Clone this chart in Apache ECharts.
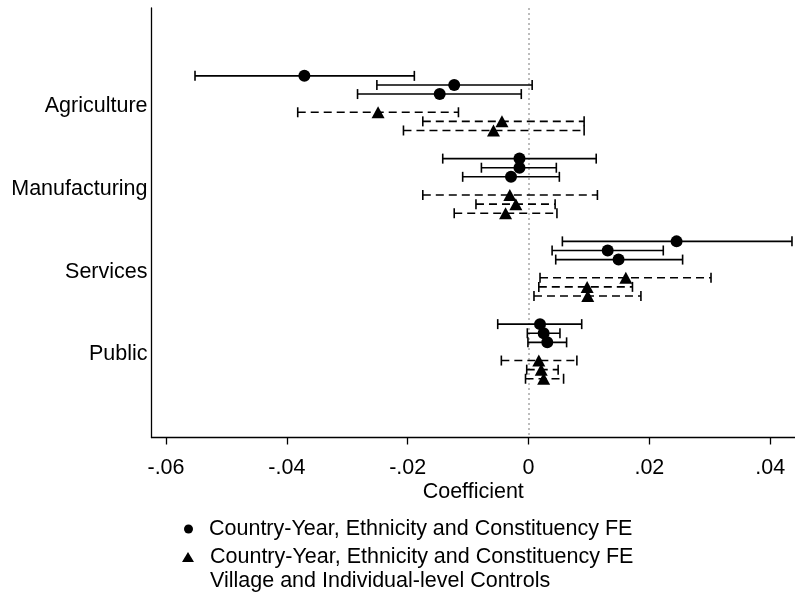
<!DOCTYPE html>
<html>
<head>
<meta charset="utf-8">
<title>Coefficient plot</title>
<script src="https://cdn.jsdelivr.net/npm/echarts@6/dist/echarts.min.js"></script>
<style>
    html, body { margin: 0; padding: 0; background: #fff; }
    #chart { width: 795px; height: 597px; }
</style>
</head>
<body>
<div id="chart"></div>
<script>
// sectors, top to bottom
var categories = ['Agriculture', 'Manufacturing', 'Services', 'Public'];
var xTicks = [-0.06, -0.04, -0.02, 0, 0.02, 0.04];

// model 1: Country-Year, Ethnicity and Constituency FE (3 specifications per sector)
var fePoint = [
    [-0.0371, -0.0123, -0.0147],
    [-0.0015, -0.0015, -0.0029],
    [0.0245, 0.0131, 0.0149],
    [0.0019, 0.0025, 0.0031]
];
var feLow = [
    [-0.0552, -0.0251, -0.0283],
    [-0.0142, -0.0078, -0.0109],
    [0.0056, 0.0039, 0.0045],
    [-0.0051, -0.0002, -0.0001]
];
var feHigh = [
    [-0.0189, 0.0006, -0.0012],
    [0.0112, 0.0046, 0.0051],
    [0.0436, 0.0223, 0.0255],
    [0.0088, 0.0052, 0.0063]
];

// model 2: + village and individual-level controls
var ctrlPoint = [
    [-0.0249, -0.0044, -0.0058],
    [-0.0031, -0.0021, -0.0038],
    [0.0161, 0.0097, 0.0098],
    [0.0017, 0.0021, 0.0025]
];
var ctrlLow = [
    [-0.0382, -0.0175, -0.0207],
    [-0.0175, -0.0087, -0.0123],
    [0.0019, 0.0017, 0.0009],
    [-0.0045, -0.0003, -0.0005]
];
var ctrlHigh = [
    [-0.0116, 0.0092, 0.0092],
    [0.0114, 0.0044, 0.0047],
    [0.0302, 0.0172, 0.0186],
    [0.0080, 0.0049, 0.0058]
];

var feName = 'Country-Year, Ethnicity and Constituency FE';
var ctrlName = 'Country-Year, Ethnicity and Constituency FE\nVillage and Individual-level Controls';

// vertical offset of each row inside a sector band
var feOffset = [-0.33, -0.22, -0.11];
var ctrlOffset = [0.11, 0.22, 0.33];

var FONT = "'Liberation Sans', Arial, Helvetica, sans-serif";
var FS = 21.5;

function buildRows(point, low, high, offset){
    var bars = [], pts = [];
    for(var i = 0; i < categories.length; i++){
        for(var j = 0; j < offset.length; j++){
            var y = i + offset[j];
            bars.push([low[i][j], high[i][j], y]);
            pts.push([point[i][j], y]);
        }
    }
    return {bars: bars, pts: pts};
}

// error bar with end caps
function ciRenderer(dash){
    return function(params, api){
        var y = api.value(2);
        var a = api.coord([api.value(0), y]);
        var b = api.coord([api.value(1), y]);
        var cap = 5;
        var solid = {stroke: '#000', lineWidth: 1.6, fill: null};
        return {
            type: 'group',
            children: [
                {type: 'line', shape: {x1: a[0], y1: a[1], x2: b[0], y2: b[1]},
                    style: {stroke: '#000', lineWidth: 1.6, fill: null, lineDash: dash}},
                {type: 'line', shape: {x1: a[0], y1: a[1] - cap, x2: a[0], y2: a[1] + cap}, style: solid},
                {type: 'line', shape: {x1: b[0], y1: b[1] - cap, x2: b[0], y2: b[1] + cap}, style: solid}
            ]
        };
    };
}

function tickText(v){
    if(Math.abs(v) < 1e-9){
        return '0';
    }
    var s = Math.abs(v).toFixed(2).replace(/^0/, '');
    return (v < 0 ? '-' : '') + s;
}

// legend text as rich tokens, one per line; a blank first line keeps
// the marker level with the first line of a two-line entry
function legendLines(name){
    var lines = name.split('\n');
    if(lines.length > 1){
        lines.unshift(' ');
    }
    return lines.map(function(s){
        return '{t|' + s + '}';
    }).join('\n');
}

var fe = buildRows(fePoint, feLow, feHigh, feOffset);
var ctrl = buildRows(ctrlPoint, ctrlLow, ctrlHigh, ctrlOffset);

var chart = echarts.init(document.getElementById('chart'), null, {renderer: 'canvas'});

var legendText = {
    fontFamily: FONT, fontSize: FS, color: '#000', lineHeight: 24,
    rich: {
        t: {fontFamily: FONT, fontSize: FS, color: '#000', lineHeight: 24, padding: [0, 0, 0, 11]}
    }
};

var option = {
    backgroundColor: '#fff',
    animation: false,
    textStyle: {fontFamily: FONT, color: '#000'},
    grid: {left: 151.5, right: 0, top: 8, bottom: 159.5, containLabel: false},
    legend: [
        {
            orient: 'vertical',
            left: 184,
            top: 517,
            height: 60,
            padding: 0,
            itemWidth: 9,
            itemHeight: 9,
            selectedMode: false,
            formatter: legendLines,
            textStyle: legendText,
            data: [{name: feName, icon: 'circle'}]
        },
        {
            orient: 'vertical',
            left: 182,
            top: 521,
            height: 76,
            padding: 0,
            itemWidth: 12,
            itemHeight: 10,
            selectedMode: false,
            formatter: legendLines,
            textStyle: legendText,
            data: [{name: ctrlName, icon: 'triangle'}]
        }
    ],
    xAxis: {
        type: 'value',
        min: -0.0624,
        max: 0.0441,
        name: 'Coefficient',
        nameLocation: 'middle',
        nameGap: 44,
        nameMoveOverlap: false,
        nameTextStyle: {fontFamily: FONT, fontSize: FS, color: '#000'},
        axisLine: {show: true, onZero: false, lineStyle: {color: '#000', width: 1.3}},
        axisTick: {show: true, length: 7, customValues: xTicks, lineStyle: {color: '#000', width: 1.3}},
        axisLabel: {
            margin: 20,
            fontFamily: FONT,
            fontSize: FS,
            color: '#000',
            customValues: xTicks,
            formatter: tickText
        },
        splitLine: {show: false}
    },
    yAxis: {
        type: 'value',
        inverse: true,
        min: -1.15,
        max: 4.04,
        axisLine: {show: true, onZero: false, lineStyle: {color: '#000', width: 1.3}},
        axisTick: {show: false},
        axisLabel: {
            margin: 4,
            fontFamily: FONT,
            fontSize: FS,
            color: '#000',
            verticalAlign: 'top',
            lineHeight: 6,
            customValues: [0, 1, 2, 3],
            formatter: function(v){
                return categories[Math.round(v)] || '';
            }
        },
        splitLine: {show: false}
    },
    series: [
        {
            name: 'fe-ci',
            type: 'custom',
            renderItem: ciRenderer(null),
            encode: {x: [0, 1], y: 2},
            data: fe.bars,
            z: 2,
            markLine: {
                silent: true,
                symbol: 'none',
                label: {show: false},
                lineStyle: {color: '#a6a6a6', width: 1.5, type: [2, 3]},
                data: [{xAxis: 0}],
                z: 1
            }
        },
        {
            name: 'ctrl-ci',
            type: 'custom',
            renderItem: ciRenderer([8, 5]),
            encode: {x: [0, 1], y: 2},
            data: ctrl.bars,
            z: 2
        },
        {
            name: feName,
            type: 'scatter',
            symbol: 'circle',
            symbolSize: 12,
            itemStyle: {color: '#000', opacity: 1},
            data: fe.pts,
            z: 3
        },
        {
            name: ctrlName,
            type: 'scatter',
            symbol: 'triangle',
            symbolSize: [13, 12],
            itemStyle: {color: '#000', opacity: 1},
            data: ctrl.pts,
            z: 3
        }
    ]
};

chart.setOption(option);
</script>
</body>
</html>
